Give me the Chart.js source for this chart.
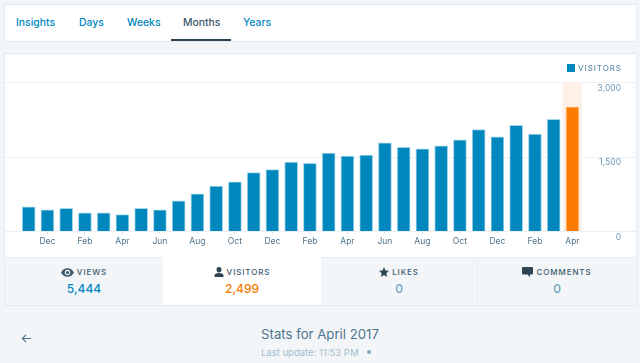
<!DOCTYPE html>
<html lang="en">
<head>
    <meta charset="UTF-8">
    <title>Stats for April 2017</title>
    <style>
        body {
            margin: 0;
            width: 640px;
            height: 363px;
            overflow: hidden;
            position: relative;
            background: #f3f6f8;
            font-family: Inter, Roboto, sans-serif;
            color: #2e4453;
        }
        .card {
            position: absolute;
            left: 4px;
            width: 631px;
            background: #fff;
            border: 1px solid #e4ebf0;
        }
        #nav { top: 4px; height: 36px; }
        #panel { top: 53px; height: 251px; }
        .tab {
            position: absolute;
            top: 22px;
            transform: translateY(-50%);
            font-size: 10.4px;
            font-weight: 500;
            color: #0087be;
        }
        .tab.active { color: #3d596d; }
        #underline {
            position: absolute;
            left: 171px;
            top: 39px;
            width: 60px;
            height: 2px;
            background: #2e4453;
        }
        canvas { position: absolute; left: 5px; top: 54px; }
        #legend {
            position: absolute;
            left: 567px;
            top: 62px;
            font-size: 8px;
            line-height: 12px;
            font-weight: 500;
            letter-spacing: 0.9px;
            color: #668eaa;
            display: flex;
            align-items: center;
        }
        #legend i {
            display: block;
            width: 8px;
            height: 8px;
            margin-right: 3px;
            background: #0087be;
        }
        .stat {
            position: absolute;
            top: 257px;
            height: 48px;
            text-align: center;
            background: #f3f6f8;
            border-top: 1px solid #e9eff3;
            box-sizing: border-box;
        }
        .stat.on { background: #fff; border-top-color: #fff; }
        .stat .name {
            position: absolute;
            left: 0; right: 0; top: 8px;
            font-size: 8px;
            font-weight: 500;
            letter-spacing: 0.9px;
            line-height: 12px;
            color: #3d596d;
        }
        .stat svg { vertical-align: -2px; margin-right: 3px; }
        .stat .num {
            position: absolute;
            left: 0; right: 0; top: 23px;
            font-size: 12px;
            font-weight: 500;
            line-height: 16px;
            color: #0087be;
        }
        .stat .num.orange { color: #f57c00; }
        .stat .num.zero { color: #6fa3c0; }
        #title {
            position: absolute;
            left: 0; width: 640px; top: 324px;
            text-align: center;
            font-size: 13.2px;
            line-height: 20px;
            color: #4f748e;
        }
        #update {
            position: absolute;
            left: 261px; top: 346px;
            font-size: 9.5px;
            line-height: 13px;
            color: #a2bccd;
        }
        #dot {
            position: absolute;
            left: 367px; top: 350px;
            width: 4px; height: 4px;
            border-radius: 50%;
            background: #87a6bc;
        }
        #back { position: absolute; left: 21px; top: 333px; }
    </style>
    <script src="https://cdn.jsdelivr.net/npm/chart.js"></script>
</head>
<body>
    <div class="card" id="nav"></div>
    <div class="tab" style="left:16px">Insights</div>
    <div class="tab" style="left:79px">Days</div>
    <div class="tab" style="left:127px">Weeks</div>
    <div class="tab active" style="left:183px">Months</div>
    <div class="tab" style="left:243px">Years</div>
    <div id="underline"></div>

    <div class="card" id="panel"></div>
    <canvas id="statsChart" width="631" height="203"></canvas>
    <div id="legend"><i></i>VISITORS</div>

    <div class="stat" style="left:5px;width:158px">
        <div class="name"><svg width="13" height="9" viewBox="0 0 24 16"><path fill="#3d596d" d="M12 0C6 0 2 4 0 8c2 4 6 8 12 8s10-4 12-8c-2-4-6-8-12-8zm0 13a5 5 0 1 1 0-10 5 5 0 0 1 0 10zm0-8a3 3 0 1 0 0 6 3 3 0 0 0 0-6z"/></svg>VIEWS</div>
        <div class="num">5,444</div>
    </div>
    <div class="stat on" style="left:163px;width:158px">
        <div class="name"><svg width="10" height="10" viewBox="0 0 20 20"><path fill="#2e4453" d="M10 0a5 5 0 0 1 5 5.500C15 8.500 13 11 10 11S5 8.500 5 5.500A5 5 0 0 1 10 0zM1 20v-3c0-3 3-5 9-5s9 2 9 5v3z"/></svg>VISITORS</div>
        <div class="num orange">2,499</div>
    </div>
    <div class="stat" style="left:321px;width:157px;border-right:1px solid #e9eff3">
        <div class="name"><svg width="10" height="10" viewBox="0 0 20 20"><path fill="#2e4453" d="M10 0l3 7 7 .6-5.300 4.700L16.200 20 10 15.800 3.800 20l1.500-7.700L0 7.600 7 7z"/></svg>LIKES</div>
        <div class="num zero">0</div>
    </div>
    <div class="stat" style="left:478px;width:158px">
        <div class="name"><svg width="11" height="10" viewBox="0 0 22 20"><path fill="#2e4453" d="M2 0h18a2 2 0 0 1 2 2v11a2 2 0 0 1-2 2h-4v5l-5-5H2a2 2 0 0 1-2-2V2a2 2 0 0 1 2-2z"/></svg>COMMENTS</div>
        <div class="num zero">0</div>
    </div>

    <svg id="back" width="11" height="11" viewBox="0 0 12 12"><path fill="none" stroke="#4f748e" stroke-width="1.300" d="M11 6H1.500M5.500 2 1.500 6l4 4"/></svg>
    <div id="title">Stats for April 2017</div>
    <div id="update">Last update: 11:53 PM</div>
    <div id="dot"></div>

    <script>
        const months = ['Nov', 'Dec', 'Jan', 'Feb', 'Mar', 'Apr', 'May', 'Jun', 'Jul', 'Aug',
            'Sep', 'Oct', 'Nov', 'Dec', 'Jan', 'Feb', 'Mar', 'Apr', 'May', 'Jun',
            'Jul', 'Aug', 'Sep', 'Oct', 'Nov', 'Dec', 'Jan', 'Feb', 'Mar', 'Apr'];
        const visitors = [485, 425, 455, 365, 365, 330, 455, 425, 605, 750,
            905, 990, 1175, 1235, 1390, 1365, 1570, 1510, 1530, 1775,
            1685, 1655, 1715, 1835, 2040, 1895, 2130, 1950, 2250, 2499];
        const highlight = months.map((m, i) => i === months.length - 1 ? 3000 : null);
        const yTicks = [0, 1500, 3000];

        // grid lines run the full width of the card, past the plot area
        const fullGrid = {
            id: 'fullGrid',
            beforeDatasetsDraw(chart) {
                const ctx = chart.ctx;
                ctx.save();
                ctx.strokeStyle = '#e9eff3';
                ctx.lineWidth = 1;
                yTicks.forEach(v => {
                    const y = Math.round(chart.scales.y.getPixelForValue(v)) + 0.5;
                    ctx.beginPath();
                    ctx.moveTo(0, y);
                    ctx.lineTo(chart.width, y);
                    ctx.stroke();
                });
                ctx.restore();
            }
        };

        new Chart(document.getElementById('statsChart'), {
            type: 'bar',
            data: {
                labels: months,
                datasets: [{
                    label: 'Visitors',
                    data: visitors,
                    order: 1,
                    grouped: false,
                    barThickness: 13,
                    backgroundColor: ctx => ctx.dataIndex === months.length - 1 ? '#ff7a00' : '#0087be',
                    borderColor: ctx => ctx.dataIndex === months.length - 1 ? '#ffc999' : '#a5d5e8',
                    borderWidth: { top: 1, left: 1, right: 1, bottom: 0 }
                }, {
                    label: 'Selected',
                    data: highlight,
                    order: 2,
                    grouped: false,
                    barThickness: 18.75,
                    backgroundColor: '#fef0e6'
                }]
            },
            options: {
                responsive: false,
                animation: false,
                layout: { padding: { top: 28, left: 14.3, right: 15 } },
                plugins: { legend: { display: false }, tooltip: { enabled: false } },
                scales: {
                    x: {
                        afterFit(scale) { scale.height = 26; },
                        border: { display: false },
                        grid: {
                            offset: false,
                            drawOnChartArea: false,
                            tickLength: 3,
                            color: ctx => ctx.index % 2 ? '#d5e0e8' : 'transparent'
                        },
                        ticks: {
                            autoSkip: false,
                            maxRotation: 0,
                            padding: 2,
                            color: '#4f748e',
                            font: { family: 'Inter', size: 8.5 },
                            callback(value, index) { return index % 2 ? months[index] : ''; }
                        }
                    },
                    y: {
                        position: 'right',
                        min: 0,
                        max: 3000,
                        afterFit(scale) { scale.width = 39.2; },
                        afterBuildTicks(scale) { scale.ticks = yTicks.map(value => ({ value })); },
                        border: { display: false },
                        grid: { display: false, drawTicks: false },
                        ticks: {
                            labelOffset: 6,
                            crossAlign: 'far',
                            color: '#6f9ab8',
                            font: { family: 'Inter', size: 8.5 },
                            callback: v => v.toLocaleString('en-US')
                        }
                    }
                }
            },
            plugins: [fullGrid]
        });
    </script>
</body>
</html>
